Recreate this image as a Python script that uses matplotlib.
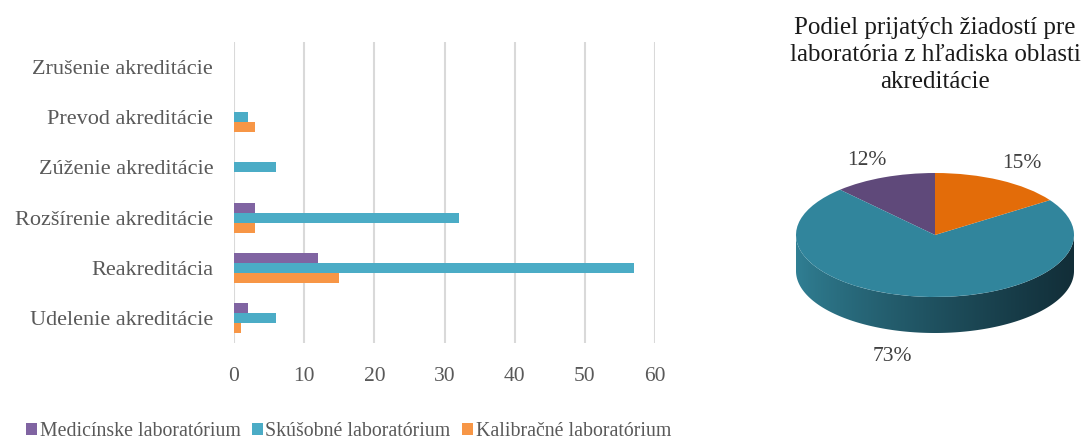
import numpy as np
import matplotlib.pyplot as plt
from matplotlib.patches import Polygon

# categories (bottom to top as in the chart)
categories = ['Udelenie akreditácie', 'Reakreditácia', 'Rozšírenie akreditácie',
              'Zúženie akreditácie', 'Prevod akreditácie', 'Zrušenie akreditácie']
series_names = ['Medicínske laboratórium', 'Skúšobné laboratórium', 'Kalibračné laboratórium']
medicinske = [2, 12, 3, 0, 0, 0]
skusobne = [6, 57, 32, 6, 2, 0]
kalibracne = [1, 15, 3, 0, 3, 0]
x_ticks = [0, 10, 20, 30, 40, 50, 60]

bar_colors = ['#8064A2', '#4BACC6', '#F79646']
pie_colors = ['#5F497A', '#31859C', '#E36C09']
pie_title = 'Podiel prijatých žiadostí pre\nlaboratória z hľadiska oblasti\nakreditácie'

W, H = 1088, 443
fig = plt.figure(figsize=(W / 100, H / 100), dpi=100)
serif = ['Liberation Serif', 'DejaVu Serif']
txt = '#595959'

# ---- bar chart ----
ax = fig.add_axes([234 / W, 1 - 343 / H, (655 - 234) / W, (343 - 42) / H])
y = np.arange(len(categories))
h = 0.2
ax.barh(y + h, medicinske, height=h, color=bar_colors[0], label=series_names[0], zorder=3)
ax.barh(y, skusobne, height=h, color=bar_colors[1], label=series_names[1], zorder=3)
ax.barh(y - h, kalibracne, height=h, color=bar_colors[2], label=series_names[2], zorder=3)
ax.set_xlim(0, 60)
ax.set_ylim(-0.5, len(categories) - 0.5)
ax.set_xticks(x_ticks)
ax.set_yticks(y)
ax.set_yticklabels(categories, family=serif, fontsize=16, color=txt)
ax.set_xticklabels([str(t) for t in x_ticks], family=serif, fontsize=15.5, color=txt)
ax.tick_params(axis='x', length=0, pad=17)
ax.tick_params(axis='y', length=0, pad=15)
ax.grid(axis='x', color='#D9D9D9', linewidth=1.5, zorder=0)
for s in ax.spines.values():
    s.set_visible(False)

fig.legend(loc='lower left', bbox_to_anchor=(8 / W, -0.036), ncol=3, frameon=False,
           prop={'family': serif, 'size': 14.3}, labelcolor=txt,
           handlelength=0.55, handleheight=0.55, handletextpad=0.15, columnspacing=0.55)

# ---- 3D-looking pie ----
cx, cy, rx, ry, depth = 935, 235, 139, 62, 36
pax = fig.add_axes([(cx - rx) / W, 1 - (cy + ry + depth) / H, 2 * rx / W, (2 * ry + depth) / H])
d = depth / ry
pie_vals = [sum(medicinske), sum(skusobne), sum(kalibracne)]

# side (front half) with dark gradient
t = np.linspace(np.pi, 2 * np.pi, 200)
verts = np.concatenate([np.c_[np.cos(t), np.sin(t)], np.c_[np.cos(t[::-1]), np.sin(t[::-1]) - d]])
side = Polygon(verts, closed=True, facecolor='none', edgecolor='none')
pax.add_patch(side)
c0 = np.array([0.19, 0.50, 0.58])
c1 = np.array([0.07, 0.18, 0.22])
g = np.linspace(0, 1, 256) ** 0.8
grad = (c0[None, :] * (1 - g[:, None]) + c1[None, :] * g[:, None])[None, :, :]
im = pax.imshow(grad, extent=(-1, 1, -1 - d, 0), aspect='auto', zorder=1)
im.set_clip_path(side)

wedges, _ = pax.pie(pie_vals, colors=pie_colors, startangle=90, counterclock=True, radius=1,
                    wedgeprops={'linewidth': 0})
for w in wedges:
    w.set_zorder(2)
total = sum(pie_vals)
for w, v in zip(wedges, pie_vals):
    th = np.deg2rad((w.theta1 + w.theta2) / 2)
    lx, ly = 1.33 * np.cos(th), 1.3 * np.sin(th)
    if ly < 0:
        lx *= 2.1
        ly -= d + 0.08
    pax.text(lx, ly, f'{round(100 * v / total)}%', ha='center', va='center',
             family=serif, fontsize=15.5, color='#404040', clip_on=False)
pax.set_aspect('auto')
pax.set_xlim(-1, 1)
pax.set_ylim(-1 - d, 1)
pax.axis('off')

fig.text(cx / W, 1 - 17 / H, pie_title, ha='center', va='top', family=serif,
         fontsize=18, color='#1a1a1a', linespacing=1.28)

fig.savefig('out.png', dpi=100)
